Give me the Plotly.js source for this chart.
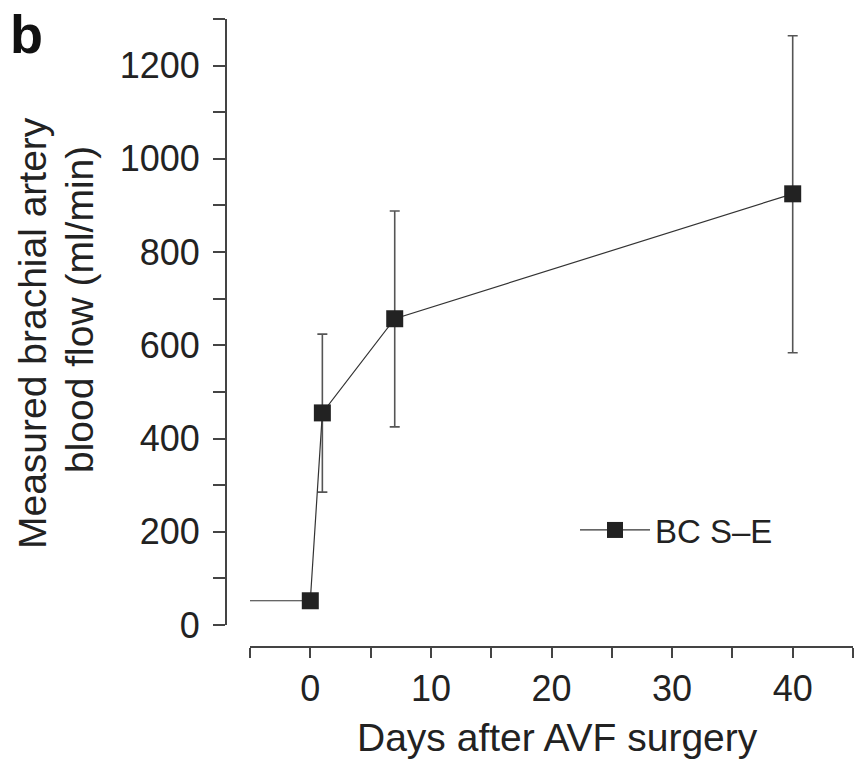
<!DOCTYPE html>
<html>
<head>
<meta charset="utf-8">
<script src="https://cdn.plot.ly/plotly-3.0.1.min.js"></script>
<style>
html,body{margin:0;padding:0;background:#fff;}
#chart{width:864px;height:765px;}
</style>
</head>
<body>
<div id="chart"></div>
<script>
// Data
const seriesName = 'BC S\u2013E';
const days = [0, 1, 7, 40];
const flow = [52, 455, 657, 925];
const errUp = [0, 169, 231, 339];
const errDown = [0, 170, 232, 341];
const baselineDays = [-5, 0];
const baselineFlow = [52, 52];

const yTickVals = [0,100,200,300,400,500,600,700,800,900,1000,1100,1200,1300];
const yTickText = ['0','','200','','400','','600','','800','','1000','','1200',''];
const xTickVals = [-5,0,5,10,15,20,25,30,35,40,45];
const xTickText = ['','0','','10','','20','','30','','40',''];

const W = 864, H = 765;
const FONT = 'Liberation Sans, Arial, Helvetica, sans-serif';
const ink = '#222222';
const axisCol = '#444444';

const traces = [
  {
    x: baselineDays, y: baselineFlow, mode: 'lines', showlegend: false,
    line: {color: '#333333', width: 1.2}, hoverinfo: 'skip'
  },
  {
    x: days, y: flow, name: seriesName, mode: 'lines+markers',
    line: {color: '#333333', width: 1.2},
    marker: {symbol: 'square', size: 17, color: ink, line: {width: 0}},
    error_y: {type: 'data', symmetric: false, array: errUp, arrayminus: errDown,
              color: '#555555', thickness: 1.6, width: 5}
  }
];

const layout = {
  width: W, height: H,
  margin: {l: 0, r: 0, t: 0, b: 0},
  paper_bgcolor: '#fff', plot_bgcolor: 'rgba(0,0,0,0)',
  font: {family: FONT, color: ink},
  showlegend: true,
  legend: {
    x: 575/W, y: 1 - 530/H, xanchor: 'left', yanchor: 'middle',
    font: {family: FONT, size: 33, color: ink},
    bgcolor: 'rgba(0,0,0,0)', borderwidth: 0, itemwidth: 70
  },
  xaxis: {
    domain: [250/W, 853/W], range: [-5, 45], anchor: 'free', position: 1 - 647/H,
    showgrid: false, zeroline: false, showline: true, linecolor: axisCol, linewidth: 2,
    ticks: 'outside', ticklen: 10, tickwidth: 2, tickcolor: axisCol,
    tickmode: 'array', tickvals: xTickVals, ticktext: xTickText,
    tickfont: {family: FONT, size: 36, color: ink}
  },
  yaxis: {
    domain: [1 - 625/H, 1 - 19/H], range: [0, 1300], anchor: 'free', position: 226/W,
    showgrid: false, zeroline: false, showline: true, linecolor: axisCol, linewidth: 2,
    ticks: 'outside', ticklen: 12, tickwidth: 2, tickcolor: axisCol,
    tickmode: 'array', tickvals: yTickVals, ticktext: yTickText,
    tickfont: {family: FONT, size: 36, color: ink}, ticklabelstandoff: 6
  },
  annotations: [
    {text: '<b>b</b>', xref: 'paper', yref: 'paper', x: 8/W, y: 1 - 2/H,
     xanchor: 'left', yanchor: 'top', showarrow: false,
     font: {family: FONT, size: 54, color: '#111'}},
    {text: 'Measured brachial artery', xref: 'paper', yref: 'paper',
     x: 32/W, y: 1 - 333/H, textangle: -90, showarrow: false,
     xanchor: 'center', yanchor: 'middle', font: {family: FONT, size: 39, color: ink}},
    {text: 'blood flow (ml/min)', xref: 'paper', yref: 'paper',
     x: 79/W, y: 1 - 310/H, textangle: -90, showarrow: false,
     xanchor: 'center', yanchor: 'middle', font: {family: FONT, size: 39, color: ink}},
    {text: 'Days after AVF surgery', xref: 'paper', yref: 'paper',
     x: 557/W, y: 1 - 737/H, showarrow: false,
     xanchor: 'center', yanchor: 'middle', font: {family: FONT, size: 39, color: ink}}
  ]
};

Plotly.newPlot('chart', traces, layout, {displayModeBar: false, staticPlot: true});
</script>
</body>
</html>
